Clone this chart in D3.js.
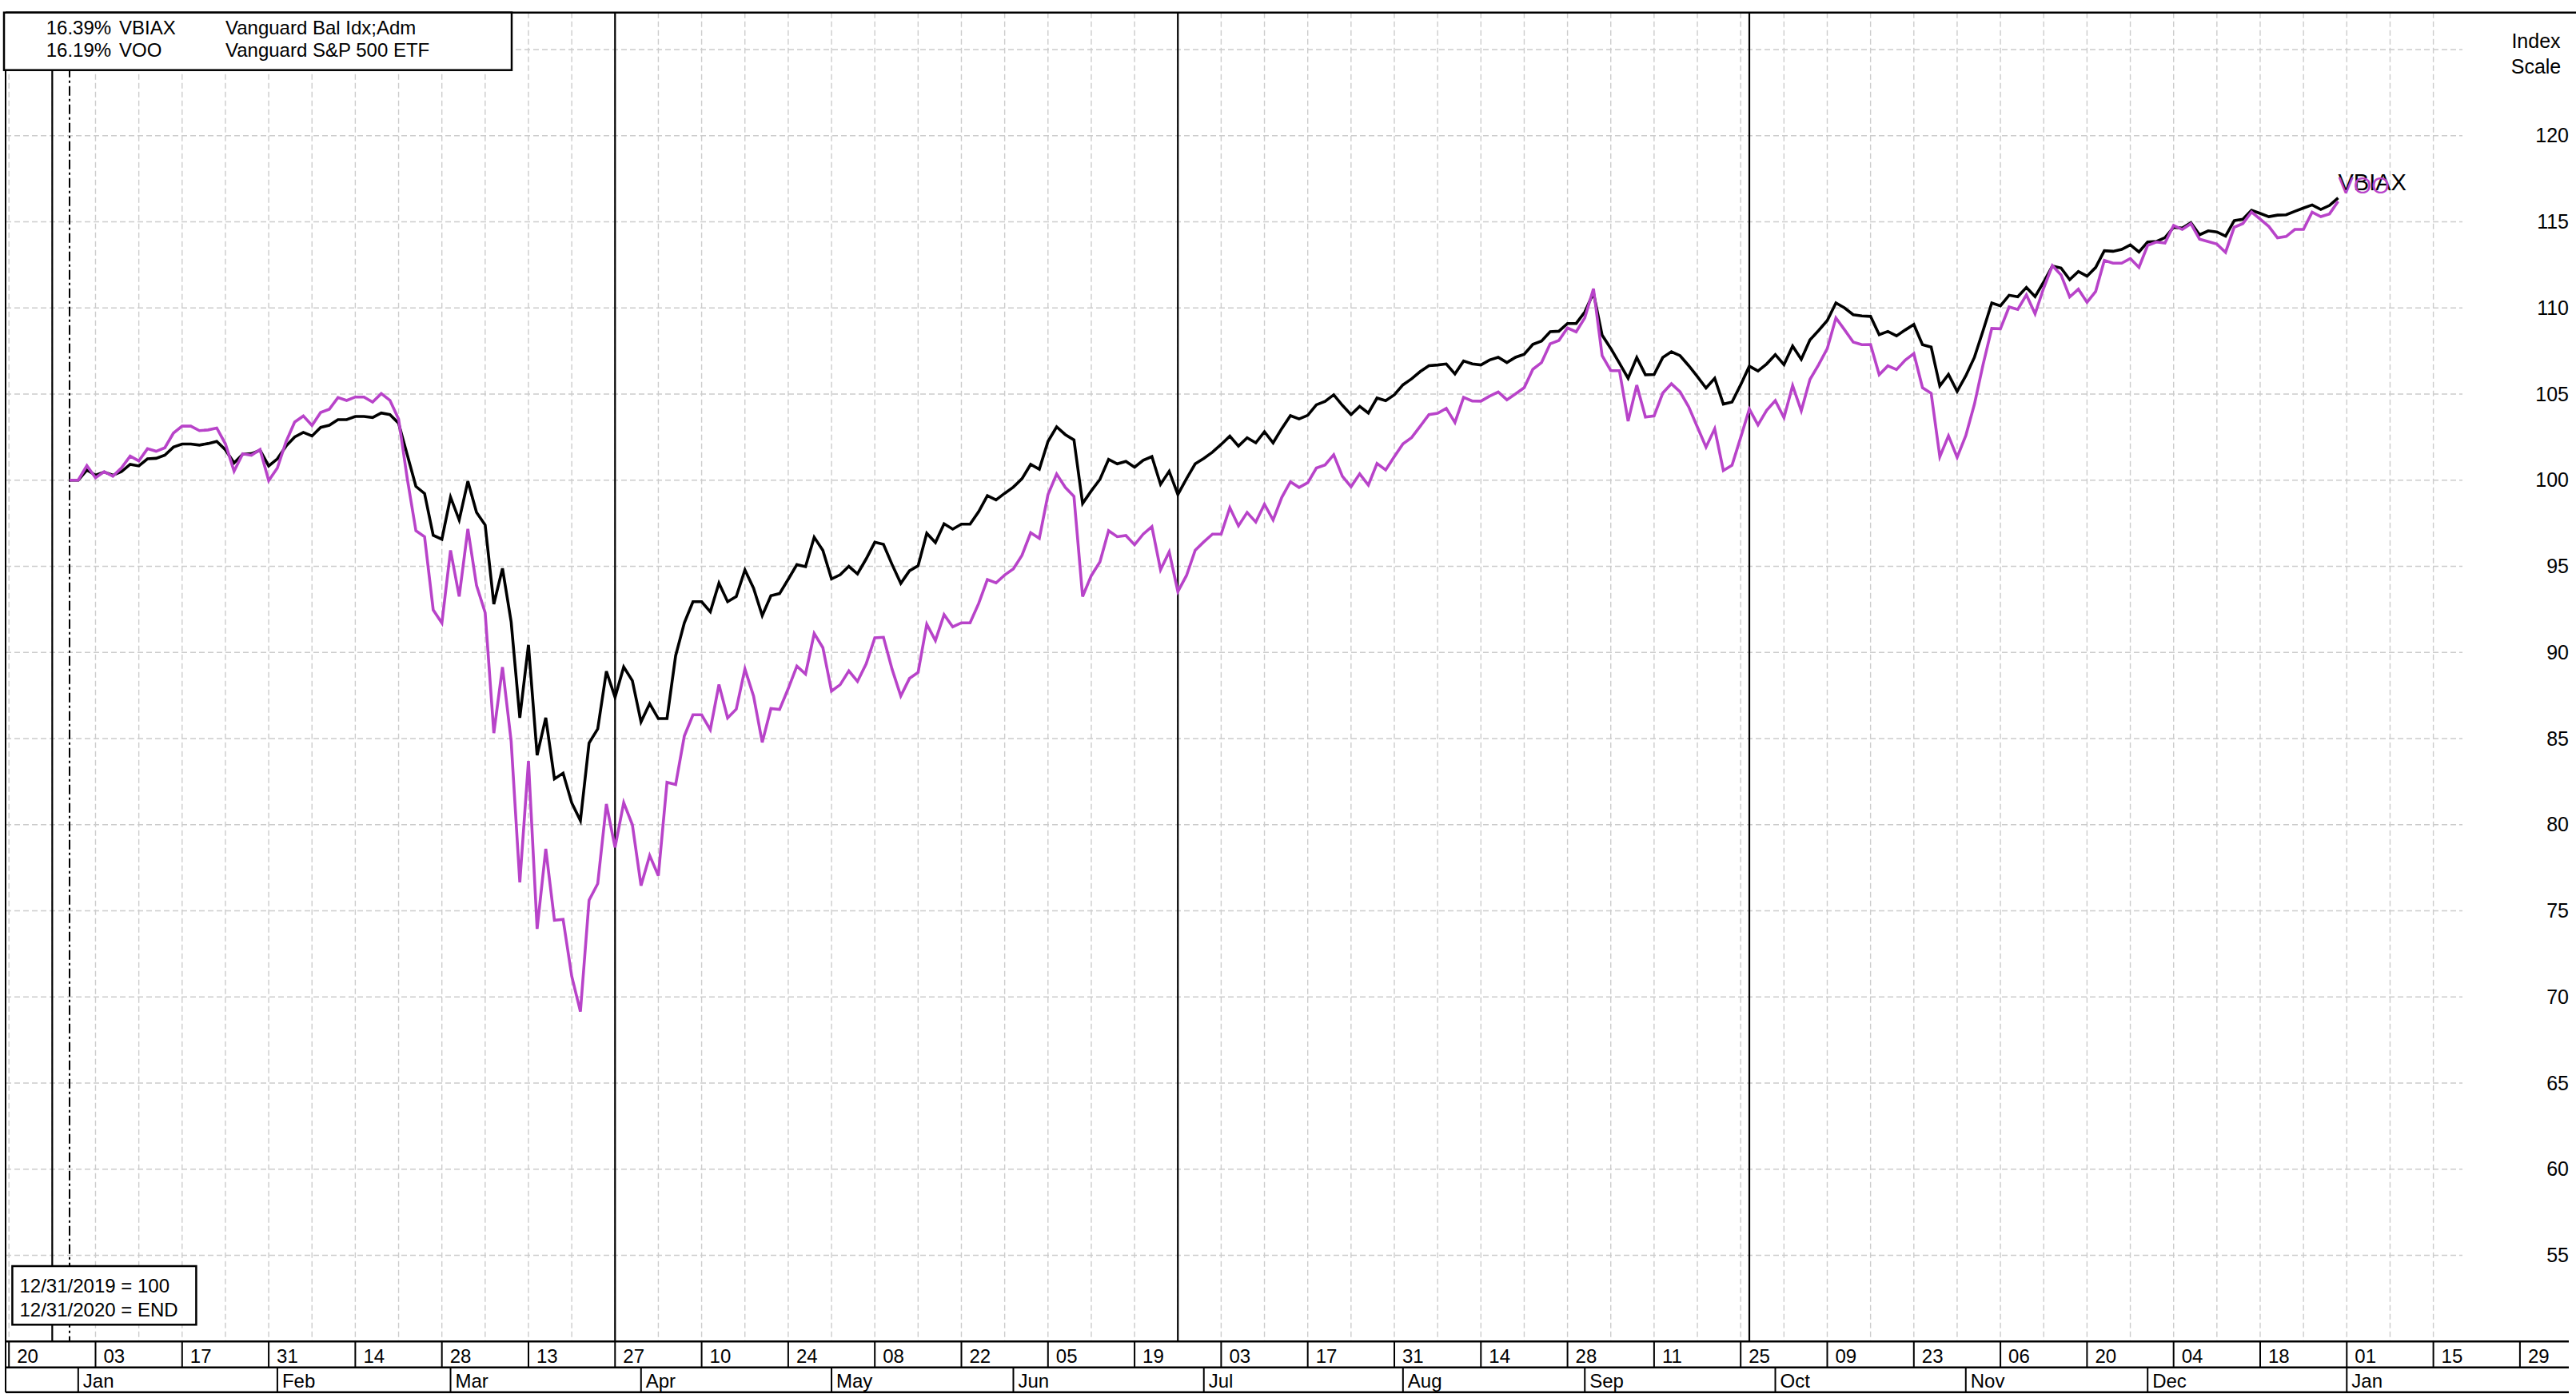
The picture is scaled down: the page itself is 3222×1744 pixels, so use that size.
<!DOCTYPE html>
<html><head><meta charset="utf-8">
<script src="https://d3js.org/d3.v7.min.js"></script>
<style>
html,body{margin:0;padding:0;background:#fff;}
svg{display:block;}
text{font-family:"Liberation Sans",Arial,Helvetica,sans-serif;fill:#000;}
</style>
</head><body>
<svg id="chart" width="3222" height="1744"></svg>
<script>
// ---------------- DATA ----------------
const seriesStart = "2019-12-31";   // first weekday of series (index base = 100)
const seriesEnd   = "2020-12-31";
// VBIAX index values (one per weekday, holidays carried)
const vbiax = [
100.00,100.00,100.59,100.29,100.47,100.29,100.50,100.92,100.83,101.24,
101.27,101.45,101.92,102.10,102.10,102.04,102.13,102.25,101.77,101.00,
101.51,101.54,101.74,100.83,101.24,101.98,102.51,102.78,102.57,103.07,
103.19,103.52,103.52,103.70,103.70,103.64,103.90,103.81,103.31,101.48,
99.64,99.23,96.80,96.57,99.02,97.69,99.94,98.13,97.40,92.81,
94.88,91.78,86.21,90.44,84.03,86.21,82.66,82.99,81.27,80.24,
84.74,85.56,88.91,87.40,89.16,88.36,85.97,87.03,86.16,86.16,
89.82,91.72,92.95,92.95,92.36,94.03,92.95,93.25,94.79,93.73,
92.14,93.30,93.42,94.25,95.10,94.98,96.69,95.93,94.27,94.51,
95.00,94.56,95.43,96.40,96.28,95.10,94.01,94.74,95.03,96.92,
96.38,97.47,97.16,97.45,97.45,98.18,99.10,98.86,99.24,99.60,
100.09,100.92,100.64,102.25,103.10,102.65,102.34,98.65,99.38,100.05,
101.21,100.95,101.09,100.76,101.16,101.37,99.76,100.52,99.17,100.09,
100.95,101.27,101.63,102.08,102.56,101.98,102.46,102.17,102.81,102.17,
103.00,103.75,103.56,103.77,104.38,104.58,104.96,104.35,103.81,104.29,
103.90,104.77,104.62,104.96,105.54,105.89,106.31,106.65,106.69,106.75,
106.17,106.92,106.75,106.69,106.98,107.14,106.83,107.14,107.31,107.89,
108.08,108.62,108.65,109.10,109.10,109.77,110.88,108.42,107.65,106.79,
105.92,107.12,106.12,106.14,107.12,107.46,107.23,106.65,106.02,105.35,
105.92,104.42,104.54,105.54,106.62,106.34,106.75,107.29,106.71,107.79,
107.02,108.15,108.69,109.27,110.29,110.00,109.61,109.54,109.51,108.45,
108.64,108.38,108.72,109.04,107.87,107.73,105.47,106.14,105.16,106.06,
107.14,108.69,110.29,110.12,110.74,110.65,111.19,110.66,111.51,112.43,
112.32,111.65,112.12,111.85,112.35,113.32,113.29,113.40,113.66,113.25,
113.83,113.86,114.08,114.68,114.64,114.95,114.25,114.48,114.41,114.17,
115.07,115.15,115.67,115.49,115.30,115.39,115.41,115.61,115.80,115.98,
115.72,115.95,116.39
];
// VOO index values
const voo = [
100.00,100.00,100.85,100.14,100.50,100.23,100.72,101.40,101.12,101.83,
101.68,101.88,102.74,103.14,103.14,102.88,102.92,103.03,102.11,100.52,
101.53,101.45,101.78,99.98,100.71,102.23,103.38,103.73,103.18,103.93,
104.12,104.80,104.63,104.83,104.83,104.54,105.03,104.64,103.55,100.10,
97.07,96.72,92.47,91.71,95.93,93.25,97.17,93.90,92.31,85.32,
89.15,84.85,76.65,83.70,73.95,78.60,74.45,74.50,71.20,69.15,
75.62,76.58,81.20,78.68,81.28,80.00,76.46,78.21,77.04,82.46,
82.33,85.15,86.38,86.38,85.52,88.14,86.20,86.71,89.04,87.46,
84.78,86.74,86.69,87.90,89.21,88.75,91.10,90.28,87.76,88.13,
88.93,88.32,89.34,90.85,90.88,89.02,87.47,88.49,88.84,91.64,
90.69,92.20,91.49,91.72,91.72,92.85,94.23,94.04,94.50,94.85,
95.64,96.95,96.62,99.16,100.36,99.58,99.06,93.25,94.46,95.26,
97.07,96.72,96.79,96.25,96.87,97.30,94.80,95.84,93.54,94.47,
95.93,96.42,96.87,96.87,98.41,97.35,98.13,97.57,98.60,97.69,
99.00,99.91,99.58,99.86,100.71,100.89,101.48,100.23,99.62,100.37,
99.72,100.97,100.60,101.37,102.11,102.48,103.14,103.81,103.89,104.17,
103.35,104.81,104.60,104.59,104.88,105.12,104.67,105.01,105.37,106.44,
106.83,107.92,108.11,108.84,108.61,109.43,111.12,107.23,106.36,106.36,
103.43,105.52,103.67,103.73,105.06,105.60,105.13,104.26,103.09,101.92,
102.99,100.56,100.87,102.48,104.13,103.21,104.06,104.62,103.63,105.49,
104.03,105.85,106.70,107.64,109.42,108.73,108.02,107.87,107.88,106.13,
106.64,106.42,106.97,107.35,105.37,105.05,101.36,102.58,101.33,102.59,
104.42,106.72,108.81,108.79,110.06,109.91,110.76,109.66,111.16,112.46,
111.92,110.64,111.09,110.33,110.96,112.76,112.60,112.60,112.87,112.36,
113.63,113.83,113.77,114.79,114.56,114.89,113.99,113.85,113.71,113.23,
114.69,114.90,115.57,115.16,114.73,114.07,114.15,114.56,114.56,115.56,
115.30,115.46,116.19
];
const seriesNames  = ["VBIAX","VOO"];
const seriesColors = ["#000000","#b843c9"];
const legendRows = [
  ["16.39%","VBIAX","Vanguard Bal Idx;Adm"],
  ["16.19%","VOO","Vanguard S&P 500 ETF"]
];
const noteLines = ["12/31/2019 = 100","12/31/2020 = END"];
const yTicks = [55,60,65,70,75,80,85,90,95,100,105,110,115,120];
const yGrid  = [55,60,65,70,75,80,85,90,95,100,105,110,115,120,125];
const yTitle = ["Index","Scale"];
const dateTickStart = "2019-12-20";
const dateTickLabels = ["20","03","17","31","14","28","13","27","10","24","08","22","05","19","03",
                        "17","31","14","28","11","25","09","23","06","20","04","18","01","15","29"];
const monthStarts = ["2020-01-01","2020-02-03","2020-03-02","2020-04-01","2020-05-01","2020-06-01",
                     "2020-07-01","2020-08-03","2020-09-01","2020-10-01","2020-11-02","2020-12-01","2021-01-01"];
const monthLabels = ["Jan","Feb","Mar","Apr","May","Jun","Jul","Aug","Sep","Oct","Nov","Dec","Jan"];
const markerDates = ["2019-12-27","2020-03-27","2020-06-26","2020-09-28"];
const baseDate = "2019-12-31";
const gridEndDate = "2021-01-15";

// ---------------- HELPERS ----------------
const DAY = 86400000;
function utc(s){const [y,m,d]=s.split("-").map(Number);return Date.UTC(y,m-1,d);}
function wdIndex(s){ // weekday index relative to seriesStart
  const t=utc(s), b=utc(seriesStart); let n=0, cur=b; const step=t>=b?1:-1;
  while(cur!==t){cur+=step*DAY;const wd=new Date(cur).getUTCDay();if(wd!==0&&wd!==6)n+=step;}
  return n;
}

// ---------------- LAYOUT ----------------
const W=3222,H=1744;
const plotTop=15.7, plotBottom=1678.3, frameLeft=7, gridRight=3080, axisRight=3213;
const rowMid=1710.7, rowBottom=1741.7;
const x=d3.scaleLinear().domain([0,262]).range([87,87+262*10.83]);
const y=d3.scaleLinear().domain([50,127.15]).range([plotBottom,plotTop]);

const svg=d3.select("#chart");
svg.append("rect").attr("width",W).attr("height",H).attr("fill","#fff");

// horizontal grid
svg.append("g").selectAll("line").data(yGrid).join("line")
  .attr("x1",frameLeft).attr("x2",gridRight).attr("y1",d=>y(d)).attr("y2",d=>y(d))
  .attr("stroke","#cccccc").attr("stroke-width",1.4).attr("stroke-dasharray","7,4");
// vertical weekly grid (Fridays)
const firstFri=wdIndex(dateTickStart), lastFri=wdIndex(gridEndDate);
const weekIdx=d3.range(firstFri,lastFri+1,5);
svg.append("g").selectAll("line").data(weekIdx).join("line")
  .attr("x1",d=>x(d)).attr("x2",d=>x(d)).attr("y1",plotTop).attr("y2",plotBottom)
  .attr("stroke","#cccccc").attr("stroke-width",1.4).attr("stroke-dasharray","7,4");

// marker verticals
svg.append("g").selectAll("line").data(markerDates).join("line")
  .attr("x1",d=>x(wdIndex(d))).attr("x2",d=>x(wdIndex(d))).attr("y1",plotTop).attr("y2",plotBottom)
  .attr("stroke","#000").attr("stroke-width",2.2);
// base date dash-dot
svg.append("line").attr("x1",x(wdIndex(baseDate))).attr("x2",x(wdIndex(baseDate)))
  .attr("y1",plotTop).attr("y2",plotBottom).attr("stroke","#000").attr("stroke-width",2)
  .attr("stroke-dasharray","12,4,3,4");

// series
const allSeries=[vbiax,voo];
const line=d3.line().x((d,i)=>x(i)).y(d=>y(d));
allSeries.forEach((s,k)=>{
  svg.append("path").datum(s).attr("d",line).attr("fill","none")
    .attr("stroke",seriesColors[k]).attr("stroke-width",3.6).attr("stroke-linejoin","miter");
});
// end labels (they overlap in the original too)
allSeries.forEach((s,k)=>{
  const n=s.length-1;
  svg.append("text").attr("x",x(n)).attr("y",y(s[n])-10).attr("font-size",29)
    .style("fill",seriesColors[k]).text(seriesNames[k]);
});

// frame
svg.append("line").attr("x1",frameLeft).attr("x2",W).attr("y1",plotTop).attr("y2",plotTop).attr("stroke","#000").attr("stroke-width",2.5);
svg.append("line").attr("x1",frameLeft).attr("x2",frameLeft).attr("y1",plotTop).attr("y2",rowBottom).attr("stroke","#000").attr("stroke-width",2);

// legend box
const lg=svg.append("g");
lg.append("rect").attr("x",5).attr("y",plotTop).attr("width",635).attr("height",72)
  .attr("fill","#fff").attr("stroke","#000").attr("stroke-width",2.5);
const legCols=[57.7,149,282], legBase=[43,71];
legendRows.forEach((r,ri)=>r.forEach((t,ci)=>{
  lg.append("text").attr("x",legCols[ci]).attr("y",legBase[ri]).attr("font-size",24).text(t);
}));

// note box
const nb=svg.append("g");
nb.append("rect").attr("x",15.4).attr("y",1584).attr("width",230).attr("height",73.3)
  .attr("fill","#fff").attr("stroke","#000").attr("stroke-width",2.5);
noteLines.forEach((t,i)=>nb.append("text").attr("x",24.5).attr("y",1617+i*30).attr("font-size",24).text(t));

// right axis
svg.append("g").selectAll("text").data(yTicks).join("text")
  .attr("x",axisRight).attr("y",d=>y(d)+8.5).attr("text-anchor","end").attr("font-size",25).text(d=>d);
yTitle.forEach((t,i)=>svg.append("text").attr("x",3172).attr("y",60+i*32).attr("text-anchor","middle").attr("font-size",25).text(t));

// bottom date axis
const ax=svg.append("g");
[plotBottom,rowMid,rowBottom].forEach(yy=>ax.append("line").attr("x1",frameLeft).attr("x2",axisRight)
  .attr("y1",yy).attr("y2",yy).attr("stroke","#000").attr("stroke-width",2.5));
const tickIdx=dateTickLabels.map((l,k)=>firstFri+10*k);
ax.selectAll("line.dt").data(tickIdx).join("line").attr("class","dt")
  .attr("x1",d=>x(d)).attr("x2",d=>x(d)).attr("y1",plotBottom).attr("y2",rowMid)
  .attr("stroke","#000").attr("stroke-width",2);
ax.selectAll("text.dt").data(dateTickLabels).join("text").attr("class","dt")
  .attr("x",(d,k)=>x(tickIdx[k])+10).attr("y",1705).attr("font-size",24).text(d=>d);
const monIdx=monthStarts.map(wdIndex);
ax.selectAll("line.mo").data(monIdx).join("line").attr("class","mo")
  .attr("x1",d=>x(d)).attr("x2",d=>x(d)).attr("y1",rowMid).attr("y2",rowBottom)
  .attr("stroke","#000").attr("stroke-width",2);
ax.selectAll("text.mo").data(monthLabels).join("text").attr("class","mo")
  .attr("x",(d,k)=>x(monIdx[k])+6).attr("y",1736).attr("font-size",24).text(d=>d);
</script>
</body></html>
